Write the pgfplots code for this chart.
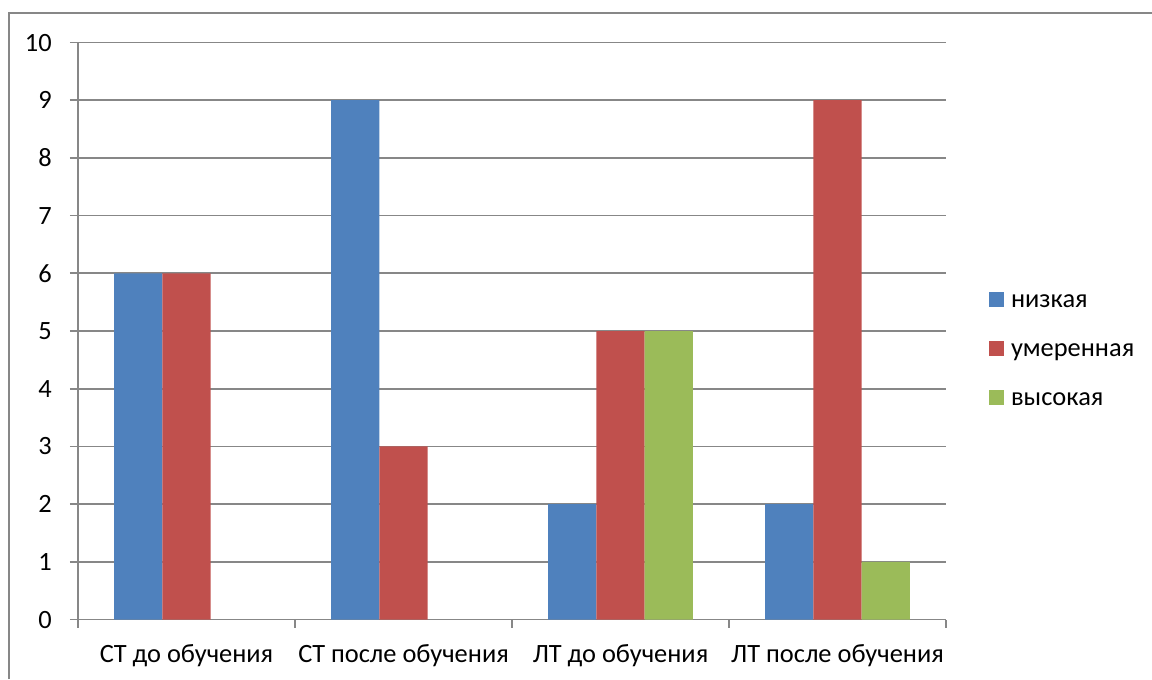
\documentclass[border=0pt]{standalone}
\usepackage{pgfplots}
\pgfplotsset{compat=1.18}
\usepackage{fontspec}
\setmainfont{Carlito}
\definecolor{cblue}{HTML}{4F81BD}
\definecolor{cred}{HTML}{C0504D}
\definecolor{cgreen}{HTML}{9BBB59}
\definecolor{gridgray}{HTML}{878787}
\pgfplotsset{sqlegend/.style={legend image code/.code={\fill[##1] (0pt,0.375pt) rectangle (11.25pt,11.625pt);}}}
\begin{document}
\begin{tikzpicture}
\useasboundingbox (0,0) rectangle (864pt,509.25pt);
\draw[color=gridgray, line width=1.2pt] (6.75pt,0) -- (6.75pt,499.5pt) -- (864pt,499.5pt);
\begin{axis}[
  at={(58.5pt,44.6pt)}, anchor=south west,
  scale only axis, width=651pt, height=432.75pt,
  xmin=-0.5, xmax=3.5, ymin=0, ymax=10,
  ybar=0pt, bar width=0.2222,
  axis lines*=left,
  axis line style={-, draw=gridgray, line width=1.3pt},
  ytick={0,1,...,10},
  ymajorgrids,
  grid style={gridgray, line width=1.3pt},
  xtick={-0.5,0.5,1.5,2.5,3.5},
  xticklabels={},
  extra x ticks={0,1,2,3},
  extra x tick labels={СТ до обучения, СТ после обучения, ЛТ до обучения, ЛТ после обучения},
  extra x tick style={tick style={draw=none}, grid=none},
  tick align=outside,
  major tick length=6pt,
  tick style={gridgray, line width=1.3pt},
  /pgf/number format/assume math mode=true,
  tick label style={font=\fontsize{19.8pt}{23pt}\selectfont},
  yticklabel style={anchor=east, inner sep=0pt, xshift=-13.5pt},
  xticklabel style={anchor=base, inner sep=0pt, yshift=-25.9pt},
  legend style={draw=none, fill=none, inner sep=0pt, outer sep=0pt,
    at={(1.0496,0.5677)}, anchor=north west,
    font=\fontsize{19.8pt}{23pt}\selectfont,
    nodes={inner sep=0pt, text height=12pt, text depth=3pt, anchor=base west},
    row sep=21.75pt, column sep=5.25pt},
  legend cell align=left,
]
\addplot[fill=cblue, draw=none, sqlegend]
  coordinates {(0,6) (1,9) (2,2) (3,2)};
\addlegendentry{низкая}
\addplot[fill=cred, draw=none, sqlegend]
  coordinates {(0,6) (1,3) (2,5) (3,9)};
\addlegendentry{умеренная}
\addplot[fill=cgreen, draw=none, sqlegend]
  coordinates {(2,5) (3,1)};
\addlegendentry{высокая}
\end{axis}
\end{tikzpicture}
\end{document}
